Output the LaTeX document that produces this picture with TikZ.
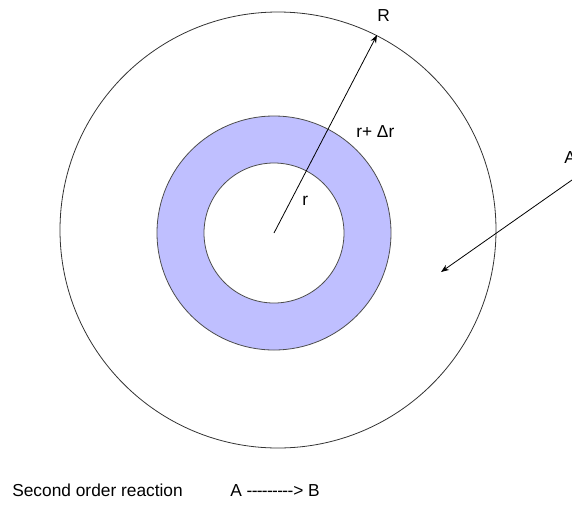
\documentclass[tikz,border=0pt]{standalone}
\usepackage{fontspec}
\setmainfont{Liberation Sans}
\usepackage{tikz}
\usetikzlibrary{arrows.meta}
\definecolor{shellblue}{RGB}{191,191,255}

\begin{document}
\begin{tikzpicture}[x=0.75pt,y=-0.75pt,>={Stealth[length=6pt,width=4.5pt]},
    lbl/.style={inner sep=0pt,anchor=base west,font=\fontsize{13}{15}\selectfont}]
  \useasboundingbox (0,0) rectangle (572,512);
  % sphere and shell
  \draw[line width=0.6pt,black!80] (278,230) circle[radius=218];
  \fill[shellblue,draw=black!70,line width=0.6pt] (274,233) circle[radius=117];
  \fill[white,draw=black!70,line width=0.6pt] (274,233) circle[radius=70];
  \coordinate (ctr) at (274,233);
  \coordinate (rim) at (377,35);
  \draw[->,line width=0.6pt] (ctr) -- (rim);
  \node[lbl] (bigR) at (377,21) {R};
  \node[lbl] (shell) at (356,137) {r+ Δr};
  \node[lbl] (smallr) at (302,205) {r};
  % feed of A
  \node[lbl] (feedA) at (564,163) {A};
  \coordinate (feedin) at (572,180);
  \coordinate (feedtip) at (441,272);
  \draw[->,line width=0.6pt] (feedin) -- (feedtip);
  \node[lbl] (title) at (12,496) {Second order reaction};
  \node[lbl] (rxn) at (230,496) {A -\kern-0.5pt-\kern-0.5pt-\kern-0.5pt-\kern-0.5pt-\kern-0.5pt-\kern-0.5pt-\kern-0.5pt-\kern-0.5pt-> B};
\end{tikzpicture}
\end{document}
